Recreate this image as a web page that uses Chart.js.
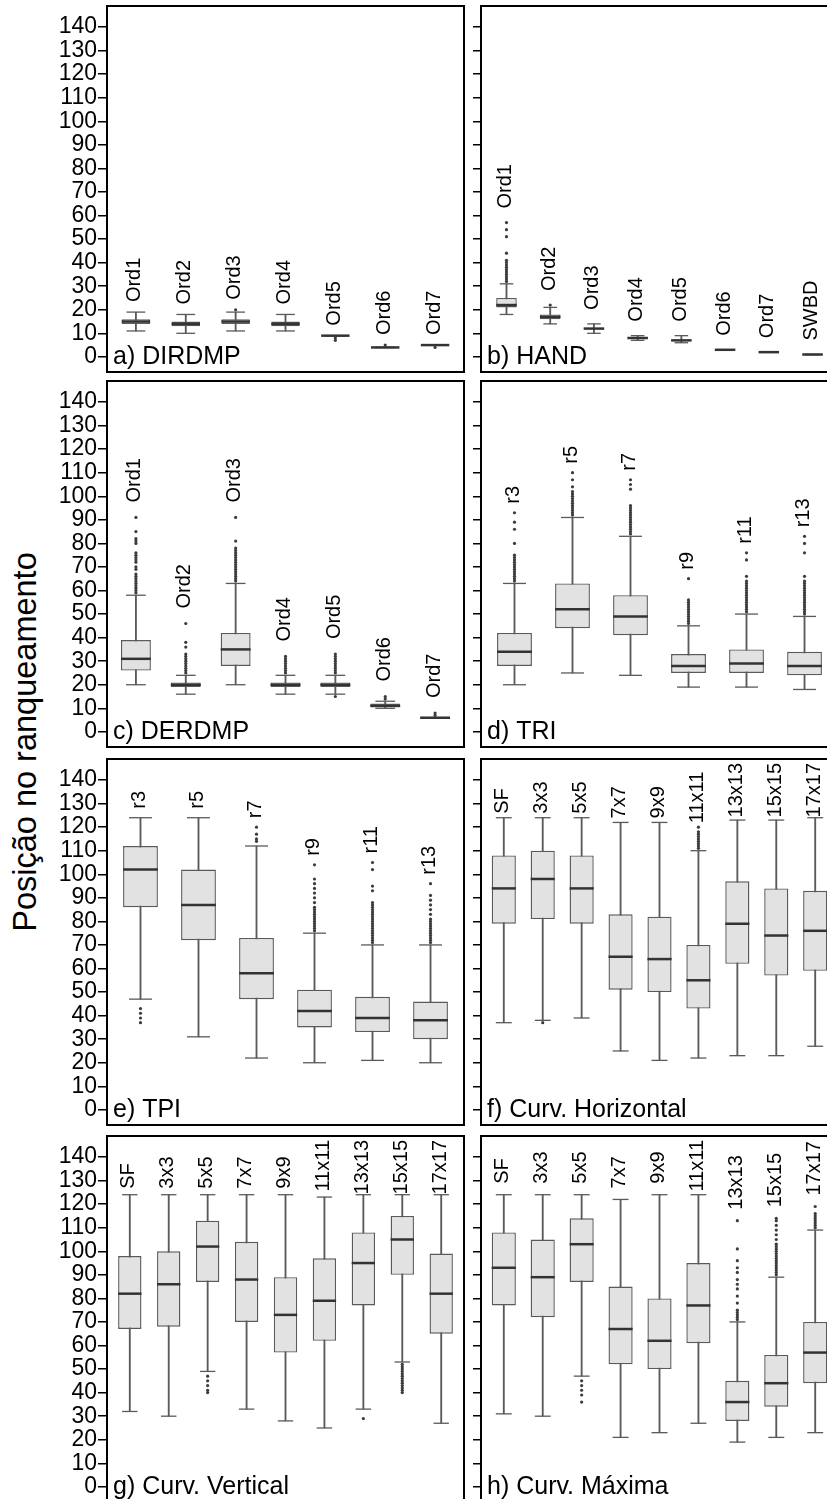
<!DOCTYPE html>
<html lang="pt">
<head>
<meta charset="utf-8">
<title>Posição no ranqueamento</title>
<script src="https://cdn.jsdelivr.net/npm/chart.js@4.4.1/dist/chart.umd.min.js"></script>
<style>
  body {
    margin: 0;
    width: 827px;
    height: 1499px;
    overflow: hidden;
    position: relative;
    background: #fff;
    font-family: "Liberation Sans", Arial, sans-serif;
  }
  canvas {
    position: absolute;
  }
  #tituloY {
    position: absolute;
    left: 25px;
    top: 742px;
    font-size: 32.5px;
    line-height: 1;
    white-space: nowrap;
    color: #000;
    transform: translate(-50%, -50%) rotate(-90deg);
  }
</style>
</head>
<body>
<div id="tituloY">Posição no ranqueamento</div>
<script>
const ticksY = [0, 10, 20, 30, 40, 50, 60, 70, 80, 90, 100, 110, 120, 130, 140];

// a) DIRDMP
const catDirdmp = ["Ord1", "Ord2", "Ord3", "Ord4", "Ord5", "Ord6", "Ord7"];
const infDirdmp = [11, 10, 11, 11, 9, 4, 5];
const q1Dirdmp = [14, 13, 14, 13, 9, 4, 5];
const medDirdmp = [15, 14, 15, 14, 9, 4, 5];
const q3Dirdmp = [16, 15, 16, 15, 9, 4, 5];
const supDirdmp = [19, 18, 19, 18, 9, 4, 5];
const outDirdmp = [[], [], [20], [], [8, 7], [5], [4]];

// b) HAND
const catHand = ["Ord1", "Ord2", "Ord3", "Ord4", "Ord5", "Ord6", "Ord7", "SWBD"];
const infHand = [18, 14, 10, 7, 6, 3, 2, 1];
const q1Hand = [21, 16, 12, 8, 7, 3, 2, 1];
const medHand = [22, 17, 12, 8, 7, 3, 2, 1];
const q3Hand = [25, 18, 12, 8, 7, 3, 2, 1];
const supHand = [31, 21, 14, 9, 9, 3, 2, 1];
const outHand = [
  [32, 33, 34, 35, 36, 37, 38, 39, 40, 41, 44, 51, 54, 57],
  [22], [], [], [], [], [], []
];

// c) DERDMP
const catDerdmp = ["Ord1", "Ord2", "Ord3", "Ord4", "Ord5", "Ord6", "Ord7"];
const infDerdmp = [20, 16, 20, 16, 16, 10, 6];
const q1Derdmp = [26, 19, 28, 19, 19, 11, 6];
const medDerdmp = [31, 20, 35, 20, 20, 11, 6];
const q3Derdmp = [39, 21, 42, 21, 21, 12, 6];
const supDerdmp = [58, 24, 63, 24, 24, 13, 6];
const outDerdmp = [
  [59, 60, 61, 62, 63, 64, 65, 66, 67, 69, 70, 72, 73, 74, 75, 76, 80, 81, 82, 85, 91],
  [25, 26, 27, 28, 29, 30, 31, 32, 33, 36, 38, 46],
  [64, 65, 66, 67, 68, 69, 70, 71, 72, 73, 74, 75, 76, 77, 78, 81, 91],
  [25, 26, 27, 28, 29, 30, 31, 32],
  [25, 26, 27, 28, 29, 30, 31, 32, 33, 15],
  [14, 15],
  [7, 8]
];

// d) TRI
const catTri = ["r3", "r5", "r7", "r9", "r11", "r13"];
const infTri = [20, 25, 24, 19, 19, 18];
const q1Tri = [28, 44, 41, 25, 25, 24];
const medTri = [34, 52, 49, 28, 29, 28];
const q3Tri = [42, 63, 58, 33, 35, 34];
const supTri = [63, 91, 83, 45, 50, 49];
const outTri = [
  [64, 65, 66, 67, 68, 69, 70, 71, 72, 73, 74, 75, 80, 86, 89, 93],
  [92, 93, 94, 95, 96, 97, 98, 99, 100, 101, 102, 104, 107, 110],
  [84, 85, 86, 87, 88, 89, 90, 91, 92, 93, 94, 95, 96, 103, 105, 107],
  [46, 47, 48, 49, 50, 51, 52, 53, 54, 55, 56, 65],
  [51, 52, 53, 54, 55, 56, 57, 58, 59, 60, 61, 62, 63, 64, 66, 73, 76],
  [50, 51, 52, 53, 54, 55, 56, 57, 58, 59, 60, 61, 62, 63, 64, 66, 76, 80, 83]
];

// e) TPI
const catTpi = ["r3", "r5", "r7", "r9", "r11", "r13"];
const infTpi = [47, 31, 22, 20, 21, 20];
const q1Tpi = [86, 72, 47, 35, 33, 30];
const medTpi = [102, 87, 58, 42, 39, 38];
const q3Tpi = [112, 102, 73, 51, 48, 46];
const supTpi = [124, 124, 112, 75, 70, 70];
const outTpi = [
  [43, 41, 39, 37],
  [],
  [114, 115, 117, 120],
  [76, 77, 78, 79, 80, 81, 82, 83, 84, 85, 86, 88, 90, 92, 94, 96, 98, 104],
  [71, 72, 73, 74, 75, 76, 77, 78, 79, 80, 81, 82, 83, 84, 85, 86, 87, 88, 93, 95, 102, 105],
  [71, 72, 73, 74, 75, 76, 77, 78, 79, 80, 81, 83, 85, 87, 89, 91, 96]
];

// f) Curv. Horizontal
const catJanela = ["SF", "3x3", "5x5", "7x7", "9x9", "11x11", "13x13", "15x15", "17x17"];
const infHoriz = [37, 38, 39, 25, 21, 22, 23, 23, 27];
const q1Horiz = [79, 81, 79, 51, 50, 43, 62, 57, 59];
const medHoriz = [94, 98, 94, 65, 64, 55, 79, 74, 76];
const q3Horiz = [108, 110, 108, 83, 82, 70, 97, 94, 93];
const supHoriz = [124, 124, 124, 122, 122, 110, 123, 123, 124];
const outHoriz = [[], [37], [], [], [], [111, 112, 113, 114, 115, 116, 117, 118, 120], [], [], []];

// g) Curv. Vertical
const infVert = [32, 30, 49, 33, 28, 25, 33, 53, 27];
const q1Vert = [67, 68, 87, 70, 57, 62, 77, 90, 65];
const medVert = [82, 86, 102, 88, 73, 79, 95, 105, 82];
const q3Vert = [98, 100, 113, 104, 89, 97, 108, 115, 99];
const supVert = [124, 124, 124, 124, 124, 123, 124, 124, 124];
const outVert = [
  [], [], [47, 45, 43, 41, 40], [], [], [], [29],
  [52, 51, 50, 49, 48, 47, 46, 45, 44, 43, 42, 41, 40],
  []
];

// h) Curv. Máxima
const infMax = [31, 30, 47, 21, 23, 27, 19, 21, 23];
const q1Max = [77, 72, 87, 52, 50, 61, 28, 34, 44];
const medMax = [93, 89, 103, 67, 62, 77, 36, 44, 57];
const q3Max = [108, 105, 114, 85, 80, 95, 45, 56, 70];
const supMax = [124, 124, 124, 122, 124, 124, 70, 89, 109];
const outMax = [
  [], [], [45, 43, 41, 39, 36], [], [], [],
  [71, 72, 73, 74, 75, 78, 81, 84, 86, 88, 91, 93, 96, 101, 113],
  [90, 91, 92, 93, 94, 95, 96, 97, 98, 99, 100, 101, 102, 103, 105, 107, 109, 111, 113, 114],
  [110, 111, 112, 113, 114, 115, 116, 119]
];

const paineis = [
  { titulo: "a) DIRDMP", cats: catDirdmp, inf: infDirdmp, q1: q1Dirdmp, med: medDirdmp, q3: q3Dirdmp, sup: supDirdmp, out: outDirdmp, col: 0, lin: 0, caixa: 0.57, folga: 10 },
  { titulo: "b) HAND", cats: catHand, inf: infHand, q1: q1Hand, med: medHand, q3: q3Hand, sup: supHand, out: outHand, col: 1, lin: 0, caixa: 0.47, folga: 14 },
  { titulo: "c) DERDMP", cats: catDerdmp, inf: infDerdmp, q1: q1Derdmp, med: medDerdmp, q3: q3Derdmp, sup: supDerdmp, out: outDerdmp, col: 0, lin: 1, caixa: 0.6, folga: 15 },
  { titulo: "d) TRI", cats: catTri, inf: infTri, q1: q1Tri, med: medTri, q3: q3Tri, sup: supTri, out: outTri, col: 1, lin: 1, caixa: 0.6, folga: 9 },
  { titulo: "e) TPI", cats: catTpi, inf: infTpi, q1: q1Tpi, med: medTpi, q3: q3Tpi, sup: supTpi, out: outTpi, col: 0, lin: 2, caixa: 0.6, folga: 9 },
  { titulo: "f) Curv. Horizontal", cats: catJanela, inf: infHoriz, q1: q1Horiz, med: medHoriz, q3: q3Horiz, sup: supHoriz, out: outHoriz, col: 1, lin: 2, caixa: 0.62, folga: 4 },
  { titulo: "g) Curv. Vertical", cats: catJanela, inf: infVert, q1: q1Vert, med: medVert, q3: q3Vert, sup: supVert, out: outVert, col: 0, lin: 3, caixa: 0.6, folga: 6 },
  { titulo: "h) Curv. Máxima", cats: catJanela, inf: infMax, q1: q1Max, med: medMax, q3: q3Max, sup: supMax, out: outMax, col: 1, lin: 3, caixa: 0.62, folga: 11 }
];

const linhasTopo = [7, 382, 760, 1137];
const fonte = '"Liberation Sans", Arial, sans-serif';

// distância em pixels entre duas categorias vizinhas
function passoX(chart) {
  const x = chart.scales.x;
  return x.getPixelForValue(1) - x.getPixelForValue(0);
}

// moldura, título do painel e rótulos girados acima de cada caixa
function pluginPainel(p) {
  return {
    id: "painel",
    afterDraw(chart) {
      const { ctx, chartArea: a, scales: { x, y } } = chart;
      ctx.save();
      ctx.strokeStyle = "#000";
      ctx.lineWidth = 2;
      ctx.strokeRect(a.left - 1, a.top - 1, a.right - a.left + 2, a.bottom - a.top + 2);

      ctx.fillStyle = "#000";
      ctx.font = "25px " + fonte;
      ctx.textAlign = "left";
      ctx.textBaseline = "alphabetic";
      ctx.fillText(p.titulo, a.left + 5, a.bottom - 7);

      ctx.font = "20px " + fonte;
      ctx.textBaseline = "middle";
      p.cats.forEach((c, i) => {
        const topo = Math.max(p.sup[i], ...p.out[i]);
        const comp = ctx.measureText(c).width;
        // não deixa o rótulo passar da borda superior do painel
        const inicio = Math.max(y.getPixelForValue(topo) - p.folga, a.top + 3 + comp);
        ctx.save();
        ctx.translate(x.getPixelForValue(i) - 1, inicio);
        ctx.rotate(-Math.PI / 2);
        ctx.fillText(c, 0, 0);
        ctx.restore();
      });
      ctx.restore();
    }
  };
}

paineis.forEach((p) => {
  const esquerda = p.col === 0;
  const eixoLarg = esquerda ? 108 : 12;
  const largura = eixoLarg + 355 + 7;
  const altura = 404;

  const canvas = document.createElement("canvas");
  canvas.width = largura;
  canvas.height = altura;
  canvas.style.width = largura + "px";
  canvas.style.height = altura + "px";
  canvas.style.left = (esquerda ? 0 : 470) + "px";
  canvas.style.top = (linhasTopo[p.lin] - 20) + "px";
  document.body.appendChild(canvas);

  const n = p.cats.length;
  const bigodes = p.cats.map((c, i) => ({ x: i, y: [p.inf[i], p.sup[i]] }));
  const caixas = p.cats.map((c, i) => ({ x: i, y: [p.q1[i], p.q3[i]] }));
  const tampas = p.cats.flatMap((c, i) => [{ x: i, y: p.inf[i] }, { x: i, y: p.sup[i] }]);
  const medianas = p.cats.map((c, i) => ({ x: i, y: p.med[i] }));
  const atipicos = p.out.flatMap((lista, i) => lista.map((v) => ({ x: i, y: v })));

  new Chart(canvas, {
    type: "bar",
    data: {
      datasets: [
        {
          type: "bar",
          data: bigodes,
          backgroundColor: "#5a5a5a",
          barThickness: 1.2,
          grouped: false,
          order: 5,
        },
        {
          type: "bar",
          data: caixas,
          backgroundColor: "#e2e2e2",
          borderColor: "#5a5a5a",
          borderWidth: 1.4,
          borderSkipped: false,
          categoryPercentage: 1,
          barPercentage: p.caixa,
          grouped: false,
          order: 4,
        },
        {
          type: "line",
          showLine: false,
          data: tampas,
          pointStyle: "line",
          pointRadius: (ctx) => passoX(ctx.chart) * p.caixa * 0.33,
          pointBorderColor: "#5a5a5a",
          pointBorderWidth: 1.3,
          order: 3,
        },
        {
          type: "line",
          showLine: false,
          data: medianas,
          pointStyle: "line",
          pointRadius: (ctx) => passoX(ctx.chart) * p.caixa * 0.5,
          pointBorderColor: "#333",
          pointBorderWidth: 2.5,
          order: 2,
        },
        {
          type: "line",
          showLine: false,
          data: atipicos,
          pointStyle: "circle",
          pointRadius: 1.6,
          pointBackgroundColor: "#3c3c3c",
          pointBorderWidth: 0,
          order: 1,
        },
      ],
    },
    plugins: [pluginPainel(p)],
    options: {
      responsive: false,
      animation: false,
      events: [],
      layout: {
        padding: { top: 20, bottom: 20, left: 0, right: 7 },
      },
      plugins: {
        legend: { display: false },
        tooltip: { enabled: false },
      },
      scales: {
        x: {
          type: "linear",
          display: false,
          offset: false,
          min: -0.56,
          max: n - 0.44,
          afterBuildTicks: (eixo) => {
            eixo.ticks = p.cats.map((c, i) => ({ value: i }));
          },
        },
        y: {
          min: -6,
          max: 148.5,
          afterBuildTicks: (eixo) => {
            eixo.ticks = ticksY.map((v) => ({ value: v }));
          },
          afterFit: (eixo) => {
            eixo.width = eixoLarg;
          },
          border: { display: false },
          grid: {
            drawOnChartArea: false,
            drawTicks: true,
            tickLength: esquerda ? 10 : 9,
            color: "#000",
            lineWidth: 1.5,
          },
          ticks: {
            display: esquerda,
            autoSkip: false,
            padding: 1,
            color: "#000",
            font: { family: fonte, size: 23 },
          },
        },
      },
    },
  });
});
</script>
</body>
</html>
